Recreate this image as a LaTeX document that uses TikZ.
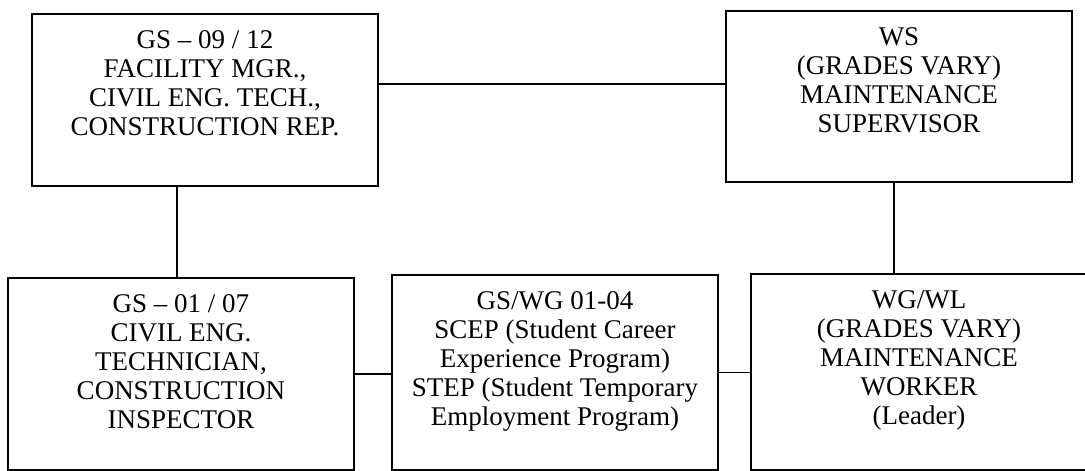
\documentclass[tikz,border=0pt]{standalone}
\usepackage{fontspec}
\setmainfont{Liberation Serif}

\tikzset{
unit/.style={draw,line width=1.3pt,inner sep=0pt},
unittext/.style={anchor=north,align=center,inner sep=0pt,font=\fontsize{19.2}{20.6}\selectfont},
link/.style={line width=1.3pt}
}
\providecommand{\UnitText}[2]{
\node[unittext] (#1-text) at ([yshift=-0.44cm]#1.north) {#2};
}

\begin{document}
\begin{tikzpicture}[x=0.025cm,y=-0.025cm]
\useasboundingbox (0,0) rectangle (1085,471);
% boxes
\node[unit,minimum width=8.65cm,minimum height=4.3cm] (fac) at (205,100) {};
\node[unit,minimum width=8.65cm,minimum height=4.275cm] (ws) at (899,96.5) {};
\node[unit,minimum width=8.65cm,minimum height=4.8cm] (tech) at (181,374) {};
\node[unit,minimum width=8.15cm,minimum height=4.875cm] (stu) at (555,372.5) {};
\node[unit,minimum width=8.4cm,minimum height=4.9cm] (wg) at (919,372) {};
% texts
\UnitText{fac}{GS -- 09 / 12\\FACILITY MGR.,\\CIVIL ENG. TECH.,\\CONSTRUCTION REP.}
\UnitText{ws}{WS\\(GRADES VARY)\\MAINTENANCE\\SUPERVISOR}
\UnitText{tech}{GS -- 01 / 07\\CIVIL ENG.\\TECHNICIAN,\\CONSTRUCTION\\INSPECTOR}
\UnitText{stu}{GS/WG 01-04\\SCEP (Student Career\\Experience Program)\\STEP (Student Temporary\\Employment Program)}
\UnitText{wg}{WG/WL\\(GRADES VARY)\\MAINTENANCE\\WORKER\\(Leader)}
% links
\draw[link] ([yshift=0.4cm]fac.east) -- ([yshift=0.4cm]fac.east -| ws.west);
\draw[link] ([xshift=-0.7cm]fac.south) -- ([xshift=-0.7cm]fac.south |- tech.north);
\draw[link] ([xshift=-0.125cm]ws.south) -- ([xshift=-0.125cm]ws.south |- wg.north);
\draw[link] (tech.east) -- (tech.east -| stu.west);
\draw[link] (stu.east) -- (stu.east -| wg.west);
\end{tikzpicture}
\end{document}
